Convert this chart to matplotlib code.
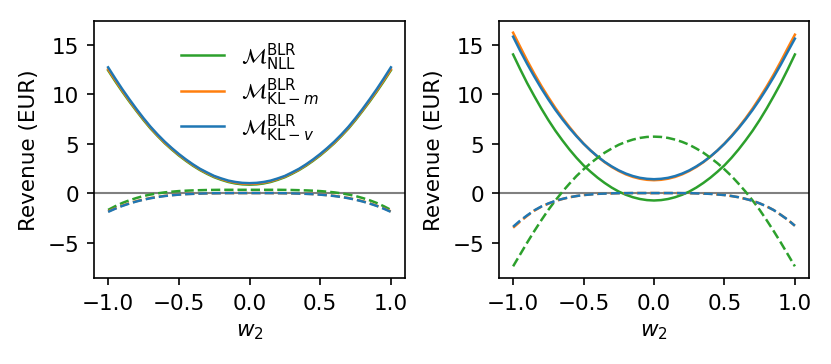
import numpy as np
import matplotlib
matplotlib.use("Agg")
import matplotlib.pyplot as plt

# w2 grid, step 0.05
w2 = np.round(np.linspace(-1.0, 1.0, 41), 2)

# left panel: solid = revenue, dashed = second quantity
left_nll = [12.4, 11.3, 10.25, 9.25, 8.3, 7.38, 6.52, 5.76, 5.04, 4.4, 3.8,
            3.26, 2.76, 2.32, 1.94, 1.6, 1.34, 1.12, 0.97, 0.88, 0.85,
            0.88, 0.97, 1.12, 1.34, 1.6, 1.94, 2.32, 2.76, 3.26, 3.8,
            4.4, 5.04, 5.76, 6.52, 7.38, 8.3, 9.25, 10.25, 11.3, 12.4]
left_klm = [12.5, 11.42, 10.35, 9.35, 8.38, 7.47, 6.6, 5.83, 5.1, 4.47, 3.87,
            3.33, 2.83, 2.38, 2.01, 1.67, 1.41, 1.19, 1.05, 0.95, 0.92,
            0.95, 1.05, 1.19, 1.41, 1.67, 2.01, 2.38, 2.83, 3.33, 3.87,
            4.47, 5.1, 5.83, 6.6, 7.47, 8.38, 9.35, 10.35, 11.42, 12.5]
left_klv = [12.7, 11.58, 10.5, 9.48, 8.5, 7.57, 6.7, 5.92, 5.2, 4.55, 3.95,
            3.4, 2.9, 2.45, 2.08, 1.73, 1.48, 1.26, 1.12, 1.03, 1.0,
            1.03, 1.12, 1.26, 1.48, 1.73, 2.08, 2.45, 2.9, 3.4, 3.95,
            4.55, 5.2, 5.92, 6.7, 7.57, 8.5, 9.48, 10.5, 11.58, 12.7]
left_nll_d = [-1.7, -1.33, -1.0, -0.73, -0.5, -0.3, -0.15, -0.03, 0.07, 0.14, 0.2,
              0.24, 0.27, 0.29, 0.31, 0.32, 0.33, 0.33, 0.33, 0.33, 0.33,
              0.33, 0.33, 0.33, 0.33, 0.32, 0.31, 0.29, 0.27, 0.24, 0.2,
              0.14, 0.07, -0.03, -0.15, -0.3, -0.5, -0.73, -1.0, -1.33, -1.7]
left_klm_d = [-1.85, -1.55, -1.27, -1.03, -0.82, -0.65, -0.5, -0.38, -0.28, -0.21, -0.15,
              -0.1, -0.07, -0.05, -0.03, -0.02, -0.01, 0.0, 0.0, 0.0, 0.0,
              0.0, 0.0, 0.0, -0.01, -0.02, -0.03, -0.05, -0.07, -0.1, -0.15,
              -0.21, -0.28, -0.38, -0.5, -0.65, -0.82, -1.03, -1.27, -1.55, -1.85]
left_klv_d = [-1.9, -1.58, -1.3, -1.06, -0.85, -0.67, -0.52, -0.4, -0.3, -0.22, -0.16,
              -0.11, -0.08, -0.05, -0.03, -0.02, -0.01, 0.0, 0.0, 0.0, 0.0,
              0.0, 0.0, 0.0, -0.01, -0.02, -0.03, -0.05, -0.08, -0.11, -0.16,
              -0.22, -0.3, -0.4, -0.52, -0.67, -0.85, -1.06, -1.3, -1.58, -1.9]

# right panel
right_nll = [14.0, 12.52, 11.1, 9.8, 8.55, 7.38, 6.3, 5.32, 4.4, 3.56, 2.8,
             2.15, 1.55, 1.02, 0.55, 0.15, -0.17, -0.42, -0.6, -0.71, -0.75,
             -0.71, -0.6, -0.42, -0.17, 0.15, 0.55, 1.02, 1.55, 2.15, 2.8,
             3.56, 4.4, 5.32, 6.3, 7.38, 8.55, 9.8, 11.1, 12.52, 14.0]
right_klm = [16.2, 14.78, 13.38, 12.07, 10.83, 9.68, 8.6, 7.6, 6.67, 5.8, 5.0,
             4.3, 3.67, 3.11, 2.63, 2.23, 1.89, 1.63, 1.45, 1.34, 1.3,
             1.34, 1.45, 1.63, 1.89, 2.23, 2.63, 3.11, 3.67, 4.3, 5.0,
             5.78, 6.63, 7.55, 8.55, 9.63, 10.77, 11.99, 13.29, 14.66, 16.0]
right_klv = [15.8, 14.38, 13.04, 11.78, 10.58, 9.46, 8.41, 7.45, 6.56, 5.74, 4.98,
             4.3, 3.69, 3.15, 2.69, 2.29, 1.97, 1.72, 1.54, 1.44, 1.4,
             1.44, 1.54, 1.72, 1.97, 2.29, 2.69, 3.15, 3.69, 4.3, 4.98,
             5.73, 6.55, 7.44, 8.4, 9.44, 10.55, 11.73, 12.98, 14.3, 15.6]
right_nll_d = [-7.4, -6.2, -5.0, -3.85, -2.75, -1.7, -0.75, 0.14, 0.95, 1.72, 2.4,
               3.02, 3.57, 4.08, 4.5, 4.88, 5.17, 5.4, 5.57, 5.67, 5.7,
               5.67, 5.57, 5.4, 5.17, 4.88, 4.5, 4.08, 3.57, 3.02, 2.4,
               1.72, 0.95, 0.14, -0.75, -1.7, -2.75, -3.85, -5.0, -6.2, -7.4]
right_klm_d = [-3.5, -2.88, -2.3, -1.78, -1.38, -1.07, -0.8, -0.6, -0.43, -0.3, -0.2,
               -0.14, -0.08, -0.05, -0.03, -0.01, -0.01, 0.0, 0.0, 0.0, 0.0,
               0.0, 0.0, 0.0, -0.01, -0.01, -0.03, -0.05, -0.08, -0.14, -0.2,
               -0.3, -0.42, -0.59, -0.78, -1.04, -1.35, -1.72, -2.2, -2.7, -3.3]
right_klv_d = [-3.4, -2.78, -2.25, -1.75, -1.36, -1.05, -0.79, -0.59, -0.42, -0.3, -0.2,
               -0.14, -0.08, -0.05, -0.03, -0.01, -0.01, 0.0, 0.0, 0.0, 0.0,
               0.0, 0.0, 0.0, -0.01, -0.01, -0.03, -0.05, -0.08, -0.14, -0.2,
               -0.3, -0.42, -0.59, -0.78, -1.04, -1.35, -1.72, -2.2, -2.7, -3.3]

labels = [r"$\mathcal{M}^{\mathrm{BLR}}_{\mathrm{NLL}}$",
          r"$\mathcal{M}^{\mathrm{BLR}}_{\mathrm{KL}-m}$",
          r"$\mathcal{M}^{\mathrm{BLR}}_{\mathrm{KL}-v}$"]
colors = ["tab:green", "tab:orange", "tab:blue"]

plt.rcParams["font.size"] = 10.3

fig = plt.figure(figsize=(831 / 150, 365 / 150), dpi=150)
ax1 = fig.add_axes([0.1131, 0.2356, 0.3743, 0.7041])
ax2 = fig.add_axes([0.6005, 0.2356, 0.3730, 0.7041], sharey=ax1)

panels = [
    (ax1, [left_nll, left_klm, left_klv], [left_nll_d, left_klm_d, left_klv_d]),
    (ax2, [right_nll, right_klm, right_klv], [right_nll_d, right_klm_d, right_klv_d]),
]

for ax, solid, dashed in panels:
    ax.axhline(0, color="grey", lw=1.0)
    for ys, c, lab in zip(solid, colors, labels):
        ax.plot(w2, ys, color=c, lw=1.2, label=lab)
    for ys, c in zip(dashed, colors):
        ax.plot(w2, ys, color=c, lw=1.2, ls="--")
    ax.set_xlabel(r"$w_2$")
    ax.set_ylabel("Revenue (EUR)")
    ax.set_xticks([-1.0, -0.5, 0.0, 0.5, 1.0])
    ax.set_yticks([-5, 0, 5, 10, 15])
    ax.tick_params(labelleft=True)

ax1.legend(loc="upper center", frameon=False, labelspacing=0.2)

fig.savefig("out.png", dpi=150)
